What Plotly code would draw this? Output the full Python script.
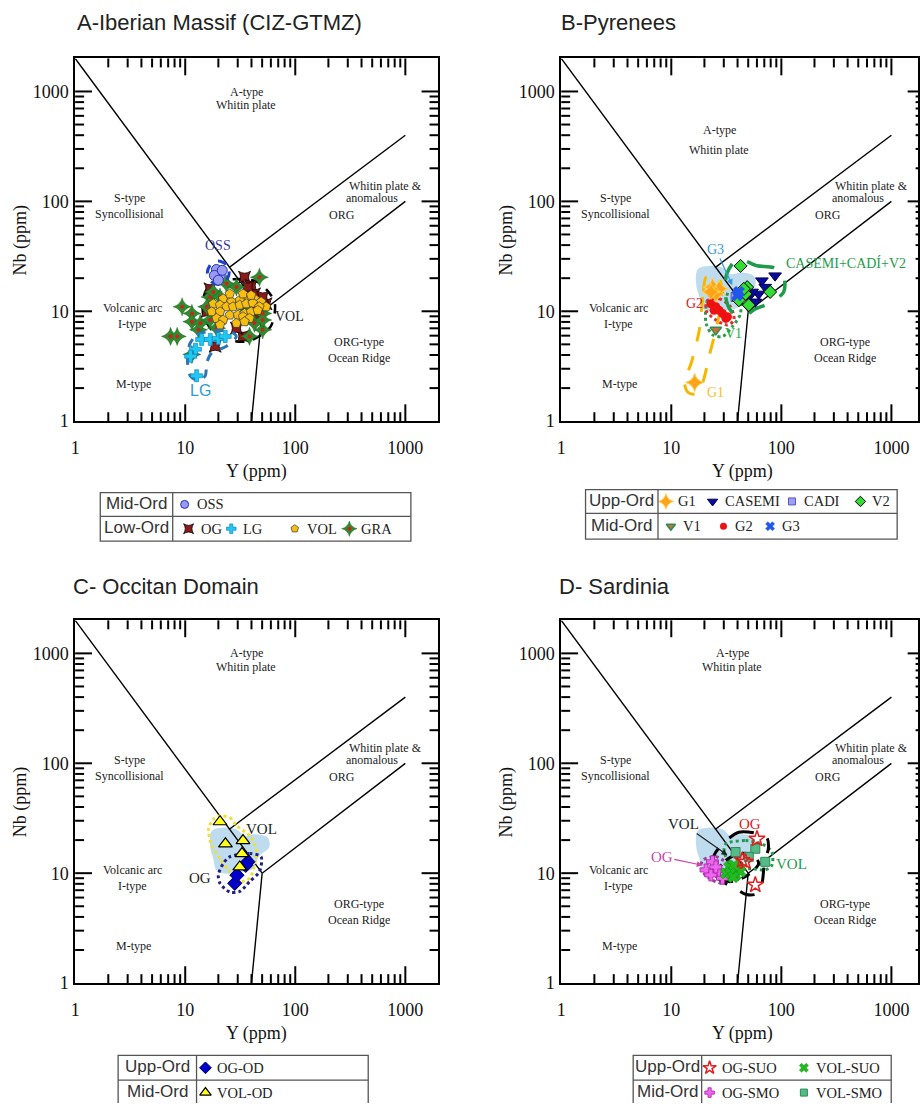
import numpy as np
import plotly.graph_objects as go

W, H = 920, 1113
SERIF = "Liberation Serif, Times New Roman, serif"
SANS = "Liberation Sans, Arial, sans-serif"

# ---------------- Pearce et al. (1984) Nb-Y boundaries ----------------
bound_x = [[1, 50], [50, 40], [50, 1000], [25, 1000]]
bound_y = [[2000, 10], [10, 1], [10, 100], [25, 400]]

# ---------------- axis ticks ----------------
major_ticks = [10, 100, 1000]
minor_ticks = [2, 3, 4, 5, 6, 7, 8, 9, 20, 30, 40, 50, 60, 70, 80, 90, 200, 300, 400, 500, 600, 700, 800, 900]
tick_labels = ["1", "10", "100", "1000"]

# ---------------- field labels ----------------
field_text = ["A-type", "Whitin plate", "S-type", "Syncollisional", "Whitin plate &", "anomalous",
              "ORG", "Volcanic arc", "I-type", "ORG-type", "Ocean Ridge", "M-type"]
field_x = [35.8, 35.8, 3.09, 3.09, 657, 502, 268, 3.29, 3.29, 381, 381, 3.36]
field_y = [1000, 752, 107, 76.7, 137, 107, 75.1, 10.7, 7.65, 5.27, 3.78, 2.16]
fieldB_x = [27.4, 27.4, 3.09, 3.09, 657, 502, 268, 3.29, 3.29, 381, 381, 3.36]
fieldB_y = [448, 296, 107, 76.7, 137, 107, 75.1, 10.7, 7.65, 5.27, 3.78, 2.16]

# light-blue reference field (B, C, D)
ref_x = [17.4, 21.4, 29.2, 34.6, 42.6, 56.1, 58.0, 47.2, 41.1, 31.3, 23.7, 19.3, 18.0, 16.8, 17.4]
ref_y = [24.2, 25.9, 25.1, 21.8, 22.6, 21.1, 17.2, 14.4, 11.0, 10.2, 9.9, 10.6, 13.5, 17.8, 24.2]

# ---------------- Panel A ----------------
A_OSS_x = [19.2, 20.8, 18.4, 21.7, 20.0]
A_OSS_y = [24.0, 21.2, 21.2, 23.6, 19.2]
A_OG_x = [34.6, 39.7, 33.5, 16.8, 18.7, 42.6, 54.2, 15.7, 29.2, 47.2, 37.1, 50.6]
A_OG_y = [20.4, 17.2, 5.91, 16.0, 4.81, 14.4, 11.7, 9.9, 7.02, 8.93, 16.6, 13.5]
A_LG_x = [14.1, 16.9, 20.0, 23.1, 12.4, 11.2, 12.7]
A_LG_y = [5.55, 5.55, 5.66, 5.9, 4.52, 3.9, 2.59]
A_VOL_x = [22.1, 26.3, 31.3, 37.1, 42.6, 48.9, 54.2, 18.0, 20.7, 23.7, 27.2, 31.3, 35.9, 41.1, 47.2, 17.4,
           20.7, 25.4, 30.2, 34.6, 39.7, 45.6, 19.3, 22.1, 33.5, 38.4, 20.7, 29.2, 34.6, 25.4, 33.5, 39.7]
A_VOL_y = [13.0, 12.2, 12.6, 13.5, 13.0, 12.2, 11.0, 11.7, 11.4, 11.0, 11.0, 11.4, 11.7, 11.9, 11.0, 9.9,
           9.9, 9.24, 9.24, 9.56, 9.9, 10.2, 8.62, 8.33, 8.93, 8.62, 7.52, 7.78, 8.05, 14.4, 14.4, 14.0]
A_GRA_x = [9.37, 11.5, 11.5, 7.36, 8.45, 11.5, 13.2, 23.7, 47.2, 38.4, 50.6, 16.8, 18.0, 29.2, 50.6, 42.6,
           19.3, 13.7, 20.7, 33.5, 42.6, 50.6, 15.7, 16.8]
A_GRA_y = [11.0, 9.56, 8.05, 5.91, 5.91, 4.05, 6.78, 17.8, 20.4, 5.91, 6.78, 13.5, 15.0, 16.6, 9.56, 7.78,
           7.02, 7.78, 13.5, 11.0, 11.0, 8.33, 11.0, 8.33]
A_OSS_env_x = [25.1, 23.5, 20.0, 17.0, 15.9, 17.0, 20.0, 23.5, 25.1]
A_OSS_env_y = [22.4, 26.7, 28.7, 26.7, 22.4, 18.8, 17.5, 18.8, 22.4]
A_LG_env_x = [11.1, 12.8, 18.0, 25.4, 29.1, 23.7, 17.4, 15.7, 15.2, 13.2, 11.1, 10.5, 10.7, 11.1]
A_LG_env_y = [5.14, 6.12, 6.64, 6.55, 5.91, 4.81, 4.19, 3.40, 2.59, 2.33, 2.59, 3.40, 4.49, 5.14]
A_VOL_env_x = [16.2, 27.2, 45.6, 64.8, 59.7, 37.1, 20.0, 14.7, 14.7, 16.2]
A_VOL_env_y = [16.6, 19.6, 18.4, 12.2, 7.26, 5.33, 5.91, 8.93, 13.5, 16.6]

# ---------------- Panel B ----------------
B_G1_x = [23.7, 27.2, 25.4, 22.9, 16.3]
B_G1_y = [16.6, 16.0, 14.4, 15.0, 2.25]
B_CASEMI_x = [66.6, 87.7, 62.2, 58.0, 50.6, 71.4, 54.2]
B_CASEMI_y = [19.0, 21.1, 14.4, 12.2, 13.5, 16.6, 15.0]
B_CADI_x = [41.1, 38.4]
B_CADI_y = [14.0, 13.5]
B_V2_x = [42.6, 48.9, 50.6, 79.1, 47.2, 45.6, 41.1]
B_V2_y = [25.9, 16.6, 11.4, 15.0, 14.4, 16.0, 12.6]
B_V1_x = [25.4]
B_V1_y = [6.78]
B_G2_x = [25.4, 32.4, 29.2, 22.9, 27.2, 31.3, 24.5]
B_G2_y = [11.0, 8.93, 9.56, 11.7, 10.2, 8.62, 10.2]
B_G3_x = [39.7, 41.1]
B_G3_y = [14.0, 15.0]
B_G1_env_x = [20.7, 19.3, 18.0, 15.2, 13.2, 14.2, 16.8, 19.3, 22.1, 25.4, 28.2, 29.2, 27.2, 23.7, 20.7]
B_G1_env_y = [20.4, 13.5, 6.78, 3.40, 2.25, 1.83, 1.77, 2.25, 3.91, 6.78, 11.0, 14.4, 19.7, 21.1, 20.4]
B_CAS_env_x = [40.0, 60.0, 85.0, 105.0, 105.0, 80.0, 58.0, 45.0, 35.0, 31.0, 32.0, 40.0]
B_CAS_env_y = [30.0, 26.0, 25.0, 21.0, 15.0, 12.0, 10.5, 9.0, 10.0, 14.0, 22.0, 30.0]
B_V1_env_x = [22.1, 31.3, 41.1, 42.6, 35.9, 29.2, 23.7, 20.7, 20.7, 22.1]
B_V1_env_y = [13.5, 14.4, 12.6, 9.56, 7.26, 5.91, 6.11, 7.78, 11.0, 13.5]
B_G2_env_x = [21.4, 27.2, 34.6, 37.1, 32.4, 25.4, 20.7, 21.4]
B_G2_env_y = [12.6, 13.0, 11.0, 8.33, 7.52, 8.33, 10.2, 12.6]

# ---------------- Panel C ----------------
C_OGOD_x = [37.1, 28.2, 29.5, 35.5]
C_OGOD_y = [12.7, 8.1, 9.6, 11.8]
C_VOLOD_x = [20.7, 23.2, 33.5, 32.8, 31.3]
C_VOLOD_y = [29.4, 18.5, 19.8, 15.1, 11.4]
C_VOL_env_x = [20.7, 25.4, 29.2, 38.4, 44.1, 42.6, 38.4, 31.3, 25.4, 20.7, 17.4, 16.3, 18.0, 20.7]
C_VOL_env_y = [33.2, 32.1, 27.1, 22.0, 16.7, 11.8, 9.0, 8.39, 10.3, 13.6, 17.9, 25.2, 31.0, 33.2]
C_OG_env_x = [25.4, 38.4, 48.9, 47.2, 38.4, 31.3, 25.4, 20.7, 20.0, 22.1, 25.4]
C_OG_env_y = [14.1, 15.1, 14.1, 10.3, 8.39, 6.82, 6.73, 8.1, 9.63, 12.2, 14.1]

# ---------------- Panel D ----------------
D_OGSUO_x = [60.1, 58.0, 44.1, 47.2]
D_OGSUO_y = [20.5, 7.83, 13.1, 12.7]
D_VOLSUO_x = [35.9, 33.5, 39.7, 38.4, 31.3, 42.6, 37.1, 34.5, 36.5]
D_VOLSUO_y = [10.7, 11.4, 11.0, 9.63, 9.96, 10.3, 11.8, 10.0, 9.2]
D_OGSMO_x = [20.7, 23.7, 27.2, 22.9, 29.2, 25.4]
D_OGSMO_y = [10.7, 12.7, 10.3, 9.63, 9.0, 11.4]
D_VOLSMO_x = [38.4, 58.0, 71.4, 50.6]
D_VOLSMO_y = [15.6, 16.7, 12.7, 14.1]
D_out_env_x = [29.2, 41.1, 62.2, 74.0, 76.3, 70.0, 66.6, 60.0, 48.0, 38.0, 28.0, 23.0, 24.5, 29.2]
D_out_env_y = [18.5, 23.6, 22.8, 21.0, 17.0, 12.0, 8.0, 6.5, 6.4, 7.3, 8.6, 11.0, 14.6, 18.5]
D_in_env_x = [27.2, 31.3, 41.1, 56.1, 62.2, 54.2, 44.1, 33.5, 28.2, 27.2]
D_in_env_y = [11.0, 13.1, 15.1, 14.6, 12.2, 10.3, 9.0, 8.39, 9.3, 11.0]
D_grn_env_x = [31.3, 47.2, 66.6, 82.0, 82.0, 71.4, 54.2, 41.1, 33.5, 30.2, 31.3]
D_grn_env_y = [18.5, 19.8, 18.5, 15.6, 11.8, 10.7, 11.0, 11.0, 12.7, 15.6, 18.5]
D_smo_env_x = [19.3, 25.4, 33.5, 35.9, 29.2, 22.1, 18.7, 19.3]
D_smo_env_y = [13.1, 14.1, 11.8, 9.0, 8.1, 9.0, 11.0, 13.1]

# ---------------- marker styles ----------------
M = {
    "OSS": dict(symbol="circle", size=10, color="#9A9AEE", line=dict(color="#2233BB", width=1)),
    "OG": dict(symbol="star-square", size=11, color="#8B1A1A", line=dict(color="black", width=0.8)),
    "LG": dict(symbol="cross", size=10, color="#1EC8F0", line=dict(color="#0A7ABF", width=0.6)),
    "VOL": dict(symbol="pentagon", size=10, color="#F7BE10", line=dict(color="#333", width=0.7)),
    "GRA": dict(symbol="star-diamond", size=13, color="#2E8B2E", line=dict(color="#1a5a1a", width=0.4)),
    "GRAc": dict(symbol="circle", size=4, color="#D02020"),
    "G1": dict(symbol="star-diamond", size=13, color="#FFA31A", line=dict(color="#FFD24D", width=1)),
    "CASEMI": dict(symbol="triangle-down", size=11, color="#0A0A9A", line=dict(color="#000055", width=1)),
    "CADI": dict(symbol="square", size=9, color="#A0A0F0", line=dict(color="#5555BB", width=1)),
    "V2": dict(symbol="diamond", size=10, color="#33DD33", line=dict(color="black", width=1)),
    "V1": dict(symbol="triangle-down", size=10, color="#C8703A", line=dict(color="#2E8B57", width=1.5)),
    "G2": dict(symbol="circle", size=9, color="#EE1111"),
    "G3": dict(symbol="x", size=10, color="#2255EE", line=dict(color="#2255EE", width=0.5)),
    "OGOD": dict(symbol="diamond", size=11, color="#0000CC", line=dict(color="#000066", width=1)),
    "VOLOD": dict(symbol="triangle-up", size=12, color="#FFFF1A", line=dict(color="black", width=1.2)),
    "OGSUO": dict(symbol="star-open", size=12, color="#E02020", line=dict(color="#E02020", width=1.5)),
    "VOLSUO": dict(symbol="x", size=10, color="#22BB22", line=dict(color="#118811", width=0.5)),
    "OGSMO": dict(symbol="cross", size=10, color="#EE66EE", line=dict(color="#AA22AA", width=0.8)),
    "VOLSMO": dict(symbol="square", size=9, color="#55BB88", line=dict(color="#2E8B57", width=1)),
}

fig = go.Figure()
DEC = 110.9          # pixels per decade
TOP = 3.301          # log10 of the axis maximum (2000)
MAJ_LEN, MIN_LEN = 17, 9

def pts(xs, ys, key, xa, ya):
    fig.add_trace(go.Scatter(x=xs, y=ys, mode="markers", marker=M[key], xaxis=xa, yaxis=ya,
                             showlegend=False, hoverinfo="skip"))

def env(xs, ys, color, width, dash, xa, ya):
    fig.add_trace(go.Scatter(x=xs, y=ys, mode="lines", xaxis=xa, yaxis=ya,
                             line=dict(color=color, width=width, dash=dash, shape="spline", smoothing=0.8),
                             showlegend=False, hoverinfo="skip"))

def field(xa, ya):
    fig.add_trace(go.Scatter(x=ref_x, y=ref_y, mode="lines", fill="toself", fillcolor="#BFDCEE",
                             line=dict(color="rgba(0,0,0,0)", width=0, shape="spline"), xaxis=xa, yaxis=ya,
                             showlegend=False, hoverinfo="skip"))

def bounds(xa, ya):
    for bx, by in zip(bound_x, bound_y):
        fig.add_trace(go.Scatter(x=bx, y=by, mode="lines", line=dict(color="black", width=1.4),
                                 xaxis=xa, yaxis=ya, showlegend=False, hoverinfo="skip"))

L = lambda v: float(np.log10(v))
annotations = []
shapes = []

def txt(x, y, text, xa, ya, size=12, color="#222", family=SERIF, **kw):
    annotations.append(dict(x=L(x), y=L(y), xref=xa, yref=ya, text=text, showarrow=False,
                            font=dict(family=family, size=size, color=color), **kw))

def arrow(tipx, tipy, tx, ty, text, xa, ya, color, size=14, family=SERIF):
    annotations.append(dict(x=L(tipx), y=L(tipy), ax=L(tx), ay=L(ty), xref=xa, yref=ya,
                            axref=xa, ayref=ya, text=text, showarrow=True, arrowhead=2,
                            arrowsize=1, arrowwidth=1.2, arrowcolor=color,
                            font=dict(family=family, size=size, color=color)))

# ---------------- Panel A ----------------
bounds("x", "y")
env(A_VOL_env_x, A_VOL_env_y, "black", 2.5, "dash", "x", "y")
pts(A_OG_x, A_OG_y, "OG", "x", "y")
pts(A_GRA_x, A_GRA_y, "GRA", "x", "y")
pts(A_GRA_x, A_GRA_y, "GRAc", "x", "y")
pts(A_VOL_x, A_VOL_y, "VOL", "x", "y")
env(A_LG_env_x, A_LG_env_y, "#2E75B6", 3, "dash", "x", "y")
pts(A_LG_x, A_LG_y, "LG", "x", "y")
env(A_OSS_env_x, A_OSS_env_y, "#2040D0", 3, "dash", "x", "y")
pts(A_OSS_x, A_OSS_y, "OSS", "x", "y")
txt(20, 39.5, "OSS", "x", "y", size=14, color="#3A3A99")
txt(88.5, 8.9, "VOL", "x", "y", size=14, color="#222")
txt(13.8, 1.9, "LG", "x", "y", size=16, color="#3399CC", family=SANS)

# ---------------- Panel B ----------------
field("x2", "y2")
bounds("x2", "y2")
env(B_G1_env_x, B_G1_env_y, "#F5B800", 3, "longdash", "x2", "y2")
env(B_V1_env_x, B_V1_env_y, "#2E9B4B", 3, "dot", "x2", "y2")
env(B_G2_env_x, B_G2_env_y, "#E03030", 3, "dot", "x2", "y2")
env(B_CAS_env_x, B_CAS_env_y, "#1E9B4B", 3.5, "longdash", "x2", "y2")
pts(B_G1_x, B_G1_y, "G1", "x2", "y2")
pts(B_G2_x, B_G2_y, "G2", "x2", "y2")
pts(B_V1_x, B_V1_y, "V1", "x2", "y2")
pts(B_CASEMI_x, B_CASEMI_y, "CASEMI", "x2", "y2")
pts(B_CADI_x, B_CADI_y, "CADI", "x2", "y2")
pts(B_V2_x, B_V2_y, "V2", "x2", "y2")
pts(B_G3_x, B_G3_y, "G3", "x2", "y2")
arrow(35.8, 17.3, 25.4, 36.6, "G3", "x2", "y2", "#3399DD")
txt(16.3, 11.8, "G2", "x2", "y2", size=14, color="#E02020")
txt(37.1, 6.33, "V1", "x2", "y2", size=14, color="#22AA44")
txt(385, 27.8, "CASEMI+CADÍ+V2", "x2", "y2", size=14, color="#1E9B4B")
txt(25.4, 1.83, "G1", "x2", "y2", size=14, color="#F5C030")

# ---------------- Panel C ----------------
field("x3", "y3")
bounds("x3", "y3")
env(C_VOL_env_x, C_VOL_env_y, "#F0E030", 3, "dot", "x3", "y3")
env(C_OG_env_x, C_OG_env_y, "#202080", 3, "dot", "x3", "y3")
pts(C_OGOD_x, C_OGOD_y, "OGOD", "x3", "y3")
pts(C_VOLOD_x, C_VOLOD_y, "VOLOD", "x3", "y3")
txt(48.9, 25.2, "VOL", "x3", "y3", size=15)
txt(13.7, 9.0, "OG", "x3", "y3", size=15)

# ---------------- Panel D ----------------
field("x4", "y4")
bounds("x4", "y4")
env(D_smo_env_x, D_smo_env_y, "#9B3F9B", 3, "dot", "x4", "y4")
env(D_grn_env_x, D_grn_env_y, "#1E9B4B", 3, "dot", "x4", "y4")
env(D_out_env_x, D_out_env_y, "black", 3, "longdash", "x4", "y4")
env(D_in_env_x, D_in_env_y, "black", 3, "dash", "x4", "y4")
pts(D_OGSMO_x, D_OGSMO_y, "OGSMO", "x4", "y4")
pts(D_VOLSMO_x, D_VOLSMO_y, "VOLSMO", "x4", "y4")
pts(D_VOLSUO_x, D_VOLSUO_y, "VOLSUO", "x4", "y4")
pts(D_OGSUO_x, D_OGSUO_y, "OGSUO", "x4", "y4")
arrow(32.4, 14.6, 12.8, 28.0, "VOL", "x4", "y4", "#222", size=15)
arrow(19.3, 11.8, 8.2, 14.1, "OG", "x4", "y4", "#CC44AA", size=15)
txt(52.4, 28.0, "OG", "x4", "y4", size=15, color="#E02020")
txt(124, 12.2, "VOL", "x4", "y4", size=15, color="#1E9B4B")

# field labels
for xa, ya, fx, fy in [("x", "y", field_x, field_y), ("x2", "y2", fieldB_x, fieldB_y),
                       ("x3", "y3", field_x, field_y), ("x4", "y4", field_x, field_y)]:
    for t, x, y in zip(field_text, fx, fy):
        txt(x, y, t, xa, ya, size=12)

# ---------------- axes ----------------
def axis(dom, rng, horizontal):
    d = dict(type="log", domain=dom, range=[0, rng], showline=True, linecolor="black", linewidth=1.8,
             mirror=True, tickmode="array", tickvals=[1, 10, 100, 1000], ticktext=tick_labels,
             tickfont=dict(family=SERIF, size=18, color="#111"),
             showgrid=False, zeroline=False, fixedrange=True)
    d.update(ticks="outside", ticklen=9 if horizontal else 1, tickcolor="rgba(0,0,0,0)", tickwidth=0.1)
    return d

px_x = lambda p: p / W
px_y = lambda p: 1 - p / H

panels = [
    ("", (70.7, 436.7), (59, 425)),
    ("2", (560.5, 920), (59, 425)),
    ("3", (70.7, 436.7), (626, 992)),
    ("4", (560.5, 920), (626, 992)),
]
layout_axes = {}
for s, (x0, x1), (y0, y1) in panels:
    xr = (x1 - x0) / DEC
    xa = axis([px_x(x0), min(1.0, px_x(x1))], xr, True)
    xa["anchor"] = "y" + s
    ya = axis([px_y(y1), px_y(y0)], TOP, False)
    ya["anchor"] = "x" + s
    layout_axes["xaxis" + s] = xa
    layout_axes["yaxis" + s] = ya
    annotations.append(dict(x=(x0 + x0 + 366) / 2, y=y1 + 51, xref="x5", yref="y5", text="Y (ppm)",
                            showarrow=False, font=dict(family=SERIF, size=18, color="#111")))
    annotations.append(dict(x=x0 - 55, y=(y0 + y1) / 2, xref="x5", yref="y5", text="Nb (ppm)",
                            textangle=-90, showarrow=False, font=dict(family=SERIF, size=18, color="#111")))
    # inside tick marks on all four sides, one line shape per tick
    xR = x0 + TOP * DEC
    for vals, ln in [(major_ticks, MAJ_LEN), (minor_ticks, MIN_LEN)]:
        for v in vals:
            px = x0 + np.log10(v) * DEC
            py = y1 - np.log10(v) * DEC
            for (a, b, c, d) in [(px, y1, px, y1 - ln), (px, y0, px, y0 + ln),
                                 (x0, py, x0 + ln, py), (xR, py, xR - ln, py)]:
                shapes.append(dict(type="line", x0=float(a), y0=float(b), x1=float(c), y1=float(d),
                                   xref="x5", yref="y5", line=dict(color="black", width=2)))

layout_axes["xaxis5"] = dict(domain=[0, 1], range=[0, W], visible=False, fixedrange=True, anchor="y5")
layout_axes["yaxis5"] = dict(domain=[0, 1], range=[H, 0], visible=False, fixedrange=True, anchor="x5")

# panel titles
for t, x, y in [("A-Iberian Massif (CIZ-GTMZ)", 71, 23), ("B-Pyrenees", 558, 23),
                ("C- Occitan Domain", 66, 592), ("D- Sardinia", 556, 592)]:
    annotations.append(dict(x=x, y=y, xref="x5", yref="y5", text=t, showarrow=False, xanchor="left",
                            font=dict(family=SANS, size=22, color="#222")))

# ---------------- legend tables ----------------
tables = [
    dict(box=(96, 497, 409, 546), mid=521, div=169,
         rows=[("Mid-Ord", [("OSS", 181, "OSS")]),
               ("Low-Ord", [("OG", 185, "OG"), ("LG", 228, "LG"), ("VOL", 292, "VOL"), ("GRA", 347, "GRA")])]),
    dict(box=(585, 494, 899, 544), mid=518, div=658,
         rows=[("Upp-Ord", [("G1", 666, "G1"), ("CASEMI", 713, "CASEMI"), ("CADI", 793, "CADI"), ("V2", 862, "V2")]),
               ("Mid-Ord", [("V1", 671, "V1"), ("G2", 724, "G2"), ("G3", 771, "G3")])]),
    dict(box=(114, 1065, 366, 1115), mid=1090, div=193,
         rows=[("Upp-Ord", [("OGOD", 202, "OG-OD")]),
               ("Mid-Ord", [("VOLOD", 202, "VOL-OD")])]),
    dict(box=(633, 1065, 893, 1115), mid=1090, div=702,
         rows=[("Upp-Ord", [("OGSUO", 710, "OG-SUO"), ("VOLSUO", 805, "VOL-SUO")]),
               ("Mid-Ord", [("OGSMO", 710, "OG-SMO"), ("VOLSMO", 805, "VOL-SMO")])]),
]
for tb in tables:
    x0, y0, x1, y1 = tb["box"]
    lc = dict(color="#555", width=1.3)
    shapes.append(dict(type="rect", x0=x0, y0=y0, x1=x1, y1=y1, xref="x5", yref="y5", line=lc))
    shapes.append(dict(type="line", x0=x0, y0=tb["mid"], x1=x1, y1=tb["mid"], xref="x5", yref="y5", line=lc))
    shapes.append(dict(type="line", x0=tb["div"], y0=y0, x1=tb["div"], y1=y1, xref="x5", yref="y5", line=lc))
    centers = [(y0 + tb["mid"]) / 2, (tb["mid"] + y1) / 2]
    for (label, entries), cy in zip(tb["rows"], centers):
        annotations.append(dict(x=(x0 + tb["div"]) / 2, y=cy - 1, xref="x5", yref="y5", text=label,
                                showarrow=False, font=dict(family=SANS, size=17, color="#333")))
        for key, mx, lab in entries:
            mk = dict(M[key])
            mk["size"] = max(7, mk["size"] - 2)
            fig.add_trace(go.Scatter(x=[mx], y=[cy], mode="markers", marker=mk, xaxis="x5", yaxis="y5",
                                     showlegend=False, hoverinfo="skip", cliponaxis=False))
            if key == "GRA":
                fig.add_trace(go.Scatter(x=[mx], y=[cy], mode="markers", marker=M["GRAc"], xaxis="x5",
                                         yaxis="y5", showlegend=False, hoverinfo="skip", cliponaxis=False))
            annotations.append(dict(x=mx + 10, y=cy, xref="x5", yref="y5", text=lab, xanchor="left",
                                    showarrow=False, font=dict(family=SERIF, size=14.5, color="#222")))

fig.update_layout(width=W, height=H, margin=dict(l=0, r=0, t=0, b=0),
                  paper_bgcolor="white", plot_bgcolor="rgba(0,0,0,0)",
                  showlegend=False, annotations=annotations, shapes=shapes, **layout_axes)

fig.write_html("out.html", config={"displayModeBar": False},
               post_script="document.body.style.margin='0px';document.body.style.padding='0px';"
                           "document.body.style.overflow='hidden';")
